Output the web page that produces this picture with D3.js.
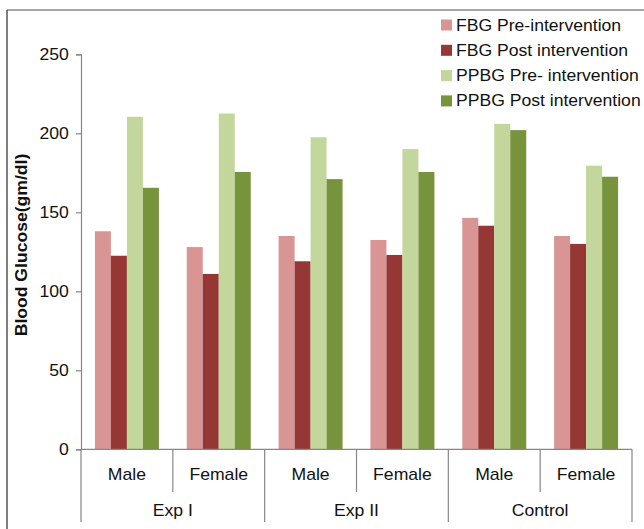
<!DOCTYPE html>
<html>
<head>
<meta charset="utf-8">
<script src="https://cdn.jsdelivr.net/npm/d3@7"></script>
<style>
  body { margin: 0; background: #fff; }
  svg { font-family: "Liberation Sans", Arial, sans-serif; }
</style>
</head>
<body>
<svg id="chart" width="644" height="529"></svg>
<script>
// data
const groups = ["Exp I", "Exp II", "Control"];
const genders = ["Male", "Female"];
const seriesNames = ["FBG Pre-intervention", "FBG Post intervention", "PPBG Pre- intervention", "PPBG Post intervention"];
const seriesColors = ["#d99594", "#953735", "#c3d69b", "#77933c"];
// one value per group x gender, in order ExpI-M, ExpI-F, ExpII-M, ExpII-F, Control-M, Control-F
const fbgPre = [138, 128, 135, 132.5, 146.5, 135];
const fbgPost = [122.5, 111, 119, 123, 141.5, 130];
const ppbgPre = [210.5, 212.5, 197.5, 190, 206, 179.5];
const ppbgPost = [165.5, 175.5, 171, 175.5, 202, 172.5];
const yTicks = [0, 50, 100, 150, 200, 250];

const allSeries = [fbgPre, fbgPost, ppbgPre, ppbgPost];
const cats = [];
groups.forEach(g => genders.forEach(s => cats.push(g + "|" + s)));

const svg = d3.select("#chart");
const plotLeft = 81, plotRight = 632, plotTop = 54.3, plotBottom = 449.3;
const stretch = 1.1; // text in the figure is a bit wide

// text placed at (x,y) and widened horizontally
function label(g, x, y, txt, size, anchor) {
    return g.append("text")
        .attr("transform", `translate(${x},${y}) scale(${stretch},1)`)
        .attr("text-anchor", anchor || "middle")
        .attr("font-size", size).attr("fill", "#111")
        .text(txt);
}

// outer frame (only top and left visible)
svg.append("line").attr("x1", 7).attr("x2", 644).attr("y1", 10).attr("y2", 10)
    .attr("stroke", "#888").attr("stroke-width", 1.5);
svg.append("line").attr("x1", 7).attr("x2", 7).attr("y1", 10).attr("y2", 529)
    .attr("stroke", "#555").attr("stroke-width", 1.5);

const y = d3.scaleLinear().domain([0, 250]).range([plotBottom, plotTop]);
const x0 = d3.scaleBand().domain(cats).range([plotLeft, plotRight]).padding(0);
const x1 = d3.scaleBand().domain(d3.range(4)).range([0, x0.bandwidth()])
    .paddingInner(0).paddingOuter(0.87);

// y axis
const yAxis = svg.append("g").attr("transform", `translate(${plotLeft},0)`)
    .call(d3.axisLeft(y).tickValues(yTicks).tickSize(5).tickPadding(6));
yAxis.select(".domain").attr("stroke", "#868686").attr("stroke-width", 1.2);
yAxis.selectAll(".tick line").attr("stroke", "#868686").attr("stroke-width", 1.2);
yAxis.selectAll(".tick text").attr("font-size", 16).attr("fill", "#111")
    .attr("font-family", "Liberation Sans, Arial, sans-serif")
    .attr("transform", `scale(${stretch},1)`);

// bars
const barG = svg.append("g");
cats.forEach((c, ci) => {
    allSeries.forEach((vals, si) => {
        barG.append("rect")
            .attr("x", x0(c) + x1(si))
            .attr("width", x1.bandwidth())
            .attr("y", y(vals[ci]))
            .attr("height", y(0) - y(vals[ci]))
            .attr("fill", seriesColors[si]);
    });
});

// x axis with two levels
const axisColor = "#868686";
svg.append("line").attr("x1", plotLeft).attr("x2", plotRight).attr("y1", plotBottom).attr("y2", plotBottom)
    .attr("stroke", axisColor).attr("stroke-width", 1.2);
cats.forEach((c, ci) => {
    const xs = x0(c);
    const isGroupEdge = ci % 2 === 0;
    svg.append("line").attr("x1", xs).attr("x2", xs)
        .attr("y1", plotBottom).attr("y2", isGroupEdge ? 522 : 492)
        .attr("stroke", axisColor).attr("stroke-width", 1.2);
    label(svg, xs + x0.bandwidth() / 2, 480, c.split("|")[1], 16);
});
svg.append("line").attr("x1", plotRight).attr("x2", plotRight).attr("y1", plotBottom).attr("y2", 522)
    .attr("stroke", axisColor).attr("stroke-width", 1.2);
groups.forEach(g => {
    const xs = x0(g + "|Male");
    label(svg, xs + x0.bandwidth(), 516, g, 16);
});

// y axis title
svg.append("text")
    .attr("transform", "translate(27,245) rotate(-90) scale(1.1,1)")
    .attr("text-anchor", "middle").attr("font-size", 16).attr("font-weight", "bold")
    .attr("fill", "#111")
    .text("Blood Glucose(gm/dl)");

// legend
const legend = svg.append("g").attr("transform", "translate(441,0)");
seriesNames.forEach((name, i) => {
    const cy = 25 + i * 25.3;
    legend.append("rect").attr("x", 0).attr("y", cy - 5.5).attr("width", 11).attr("height", 11)
        .attr("fill", seriesColors[i]);
    label(legend, 15, cy + 5.5, name, 16, "start");
});
</script>
</body>
</html>
